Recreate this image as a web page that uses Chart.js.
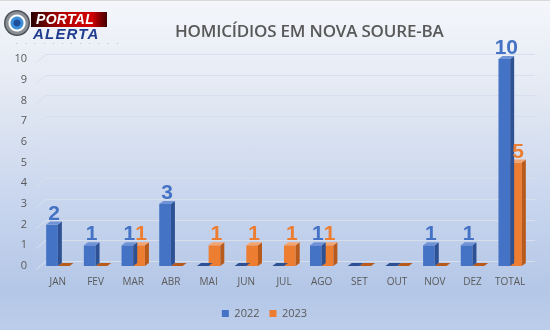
<!DOCTYPE html>
<html lang="pt">
<head>
<meta charset="UTF-8">
<title>Homicídios em Nova Soure-BA</title>
<script src="https://cdn.jsdelivr.net/npm/chart.js"></script>
<style>
  html, body { margin:0; padding:0; }
  body { width:550px; height:330px; overflow:hidden; position:relative;
         background: linear-gradient(to bottom, #f4f6fa 0%, #e2e8f3 30%, #c9d6ee 60%, #b4c7e7 88%, #bccdea 100%);
         font-family: 'Open Sans', Arial, sans-serif; }
  #wrap { position:absolute; left:0; top:0; width:550px; height:330px; border-top:1px solid #d9d9d9; box-sizing:border-box; }
  .title { position:absolute; top:19px; left:175px; width:268px; text-align:center;
           font-size:17px; font-weight:600; color:#595959; white-space:nowrap; letter-spacing:-0.2px; }
  .logo { position:absolute; left:4px; top:9px; width:110px; height:40px; }
  .eye { position:absolute; left:0; top:1px; width:26px; height:26px; border-radius:50%;
         background: radial-gradient(circle, #1b4f9c 0 3px, #3e8fd6 4px 6px, #ffffff 7px 8px, #8a8f96 9px 11px, #4c5158 12px); }
  .portal { position:absolute; left:27px; top:3px; width:76px; height:15px;
            background: linear-gradient(to right, #2a0000, #b00000 40%, #d40000 80%, #400000);
            color:#fff; font:italic 900 14px 'Liberation Sans', Arial, sans-serif; line-height:15px; text-indent:5px; letter-spacing:0.3px; }
  .alerta { position:absolute; left:29px; top:16px; color:#1f3c8f; font:italic 900 15px 'Liberation Sans', Arial, sans-serif; letter-spacing:1.2px; }
  .tag { position:absolute; left:12px; top:30px; font-size:6px; color:#666; letter-spacing:3px; white-space:nowrap; }
</style>
</head>
<body>
<div id="wrap"><canvas id="chart" width="550" height="330"></canvas></div>
<div class="logo">
  <div class="eye"></div>
  <div class="portal">PORTAL</div>
  <div class="alerta">ALERTA</div>
  <div class="tag">· · · · · · · · · · · ·</div>
</div>
<div class="title">HOMICÍDIOS EM NOVA SOURE-BA</div>
<script>
const months = ['JAN','FEV','MAR','ABR','MAI','JUN','JUL','AGO','SET','OUT','NOV','DEZ','TOTAL'];
const values2022 = [2, 1, 1, 3, 0, 0, 0, 1, 0, 0, 1, 1, 10];
const values2023 = [0, 0, 1, 0, 1, 1, 1, 1, 0, 0, 0, 0, 5];

const front = ['#4472c4', '#ed7d31'];
const side  = ['#2d5193', '#b85a1c'];
const top_  = ['#6f93d6', '#f4a46e'];
const DX = 4, DY = 3;

// back-wall gridlines with the slanted floor edge on the left
const gridWall = {
  id: 'gridWall',
  beforeDatasetsDraw(chart) {
    const y = chart.scales.y, ctx = chart.ctx, a = chart.chartArea;
    ctx.save();
    ctx.strokeStyle = '#d7dfec';
    ctx.lineWidth = 1;
    y.ticks.forEach(t => {
      const py = Math.round(y.getPixelForValue(t.value)) + 0.5;
      ctx.beginPath();
      ctx.moveTo(a.left - 3, py + 3);
      ctx.lineTo(a.left + 7, py - 5);
      ctx.lineTo(a.right + 6, py - 5);
      ctx.stroke();
    });
    ctx.restore();
  }
};

// side and top faces for each bar, drawn per dataset so the next series covers them
const bars3d = {
  id: 'bars3d',
  afterDatasetDraw(chart, args) {
    const ctx = chart.ctx, i = args.index;
    ctx.save();
    args.meta.data.forEach(bar => {
      const p = bar.getProps(['x', 'y', 'base', 'width'], true);
      const l = p.x - p.width / 2, r = p.x + p.width / 2;
      ctx.fillStyle = side[i];
      ctx.beginPath();
      ctx.moveTo(r, p.y); ctx.lineTo(r + DX, p.y - DY);
      ctx.lineTo(r + DX, p.base - DY); ctx.lineTo(r, p.base);
      ctx.closePath(); ctx.fill();
      ctx.fillStyle = p.base - p.y < 1 ? side[i] : top_[i];
      ctx.beginPath();
      ctx.moveTo(l, p.y); ctx.lineTo(l + DX, p.y - DY);
      ctx.lineTo(r + DX, p.y - DY); ctx.lineTo(r, p.y);
      ctx.closePath(); ctx.fill();
    });
    ctx.restore();
  },
  afterDatasetsDraw(chart) {
    const ctx = chart.ctx;
    ctx.save();
    ctx.font = 'bold 21px "Liberation Sans", Arial, sans-serif';
    ctx.textAlign = 'center';
    ctx.textBaseline = 'alphabetic';
    chart.data.datasets.forEach((ds, i) => {
      chart.getDatasetMeta(i).data.forEach((bar, j) => {
        if (!ds.data[j]) return;
        ctx.fillStyle = front[i];
        ctx.fillText(String(ds.data[j]), bar.x + 2, bar.y - 5);
      });
    });
    ctx.restore();
  }
};

new Chart(document.getElementById('chart'), {
  type: 'bar',
  data: {
    labels: months,
    datasets: [
      { label: '2022', data: values2022, backgroundColor: front[0] },
      { label: '2023', data: values2023, backgroundColor: front[1] }
    ]
  },
  options: {
    responsive: false,
    animation: false,
    events: [],
    categoryPercentage: 0.62,
    barPercentage: 1,
    layout: { padding: { top: 58, right: 21, left: 0, bottom: 2 } },
    scales: {
      x: {
        grid: { display: false, drawTicks: false },
        border: { display: false },
        ticks: { color: '#595959', font: { family: 'Open Sans', size: 10 }, padding: 10, maxRotation: 0 }
      },
      y: {
        min: 0, max: 10,
        afterFit: s => { s.width = 39; },
        grid: { display: false, drawTicks: false },
        border: { display: false },
        ticks: { stepSize: 1, color: '#595959', font: { family: 'Open Sans', size: 11 }, padding: 12 }
      }
    },
    plugins: {
      legend: {
        position: 'bottom',
        labels: { boxWidth: 7, boxHeight: 7, color: '#595959', font: { family: 'Open Sans', size: 11 }, padding: 10 }
      },
      tooltip: { enabled: false }
    }
  },
  plugins: [gridWall, bars3d]
});
</script>
</body>
</html>
